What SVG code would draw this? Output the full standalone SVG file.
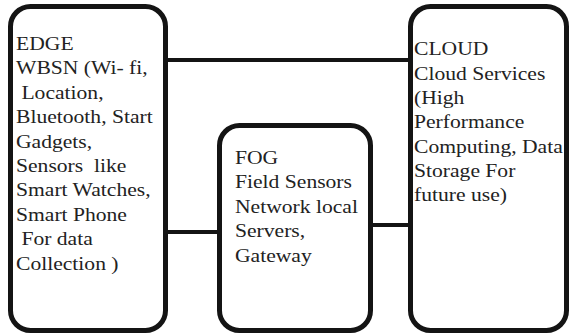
<svg xmlns="http://www.w3.org/2000/svg" width="570" height="335" viewBox="0 0 570 335">
<style>
.box{fill:#fff;stroke:#141414;stroke-width:5}
.conn{stroke:#141414;stroke-width:4;fill:none}
.t{font-family:"Liberation Serif","Times New Roman",serif;font-size:18px;fill:#222}
</style>
<rect width="570" height="335" fill="#fff"/>
<g id="edge">
<rect class="box" x="10.5" y="6.5" width="155" height="324" rx="20"/>
<g transform="translate(16,0) scale(1.2,1)">
<text class="t" xml:space="preserve"><tspan x="0" y="50">EDGE</tspan><tspan x="0" y="74.4">WBSN (Wi- fi,</tspan><tspan x="0" y="98.8"> Location,</tspan><tspan x="0" y="123.2">Bluetooth, Start</tspan><tspan x="0" y="147.6">Gadgets,</tspan><tspan x="0" y="172">Sensors  like</tspan><tspan x="0" y="196.4">Smart Watches,</tspan><tspan x="0" y="220.8">Smart Phone</tspan><tspan x="0" y="245.2"> For data</tspan><tspan x="0" y="269.6">Collection )</tspan></text>
</g>
</g>
<g id="fog">
<rect class="box" x="219.5" y="125.5" width="151" height="205" rx="20"/>
<g transform="translate(235,0) scale(1.2,1)">
<text class="t" xml:space="preserve"><tspan x="0" y="164">FOG</tspan><tspan x="0" y="188.4">Field Sensors</tspan><tspan x="0" y="212.8">Network local</tspan><tspan x="0" y="237.2">Servers,</tspan><tspan x="0" y="261.6">Gateway</tspan></text>
</g>
</g>
<g id="cloud">
<rect class="box" x="410.5" y="6.5" width="156" height="324" rx="20"/>
<g transform="translate(414,0) scale(1.2,1)">
<text class="t" xml:space="preserve"><tspan x="0" y="55.5">CLOUD</tspan><tspan x="0" y="79.8">Cloud Services</tspan><tspan x="0" y="104.1">(High</tspan><tspan x="0" y="128.4">Performance</tspan><tspan x="0" y="152.7">Computing, Data</tspan><tspan x="0" y="177">Storage For</tspan><tspan x="0" y="201.3">future use)</tspan></text>
</g>
</g>
<g id="connectors">
<line class="conn" x1="168" y1="60" x2="408" y2="60"/>
<line class="conn" x1="168" y1="232" x2="217" y2="232"/>
<line class="conn" x1="373" y1="225" x2="408" y2="225"/>
</g>
</svg>
